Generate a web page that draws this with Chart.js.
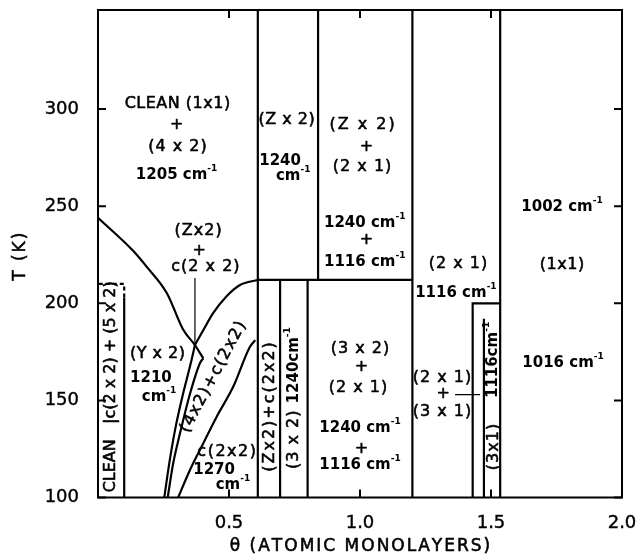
<!DOCTYPE html>
<html>
<head>
<meta charset="utf-8">
<title>Surface phase diagram</title>
<script src="https://cdn.jsdelivr.net/npm/chart.js@4.4.1/dist/chart.umd.min.js"></script>
<style>
  html, body { margin: 0; padding: 0; background: #fff; }
  canvas { display: block; }
</style>
</head>
<body>
<canvas id="phase" width="638" height="559"></canvas>
<script>
// Axis ranges and tick values
const thetaRange = [0, 2];
const tempRange = [100, 351];
const thetaTicks = [0.5, 1.0, 1.5, 2.0];
const tempTicks = [100, 150, 200, 250, 300];

// Phase boundaries as [θ (monolayers), T (K)] points
const cleanBoxEdge = [[0.10, 100], [0.10, 203]];
const cleanBoxTop = [[0.10, 203], [0.10, 210], [0, 210]];
const upperCurve = [[0, 244], [0.134, 227], [0.187, 218.6], [0.263, 205.2], [0.326, 186.2], [0.37, 178.5], [0.402, 171.6]];
const risingCurve = [[0.37, 178.5], [0.402, 186.2], [0.44, 195], [0.49, 203.5], [0.542, 209.4], [0.61, 212]];
const yx2Edge = [[0.253, 100], [0.272, 117.6], [0.294, 134.7], [0.322, 151.9], [0.354, 169.1], [0.37, 178.5]];
const wedgeEdge = [[0.266, 100], [0.287, 117.6], [0.316, 134.7], [0.348, 151.9], [0.389, 169.1], [0.402, 171.6]];
const c2x2Edge = [[0.306, 100], [0.351, 114.2], [0.402, 127.9], [0.453, 141.6], [0.516, 157], [0.58, 177.6], [0.60, 181]];
const straightEdges = [
  [[0.61, 100], [0.61, 351]],
  [[0.84, 212], [0.84, 351]],
  [[0.61, 212], [1.2, 212]],
  [[0.695, 100], [0.695, 212]],
  [[0.80, 100], [0.80, 212]],
  [[1.2, 100], [1.2, 351]],
  [[1.43, 100], [1.43, 200], [1.535, 200]],
  [[1.535, 100], [1.535, 351]],
  [[1.473, 100], [1.473, 192]]
];
const leaderLines = [
  [[0.37, 213], [0.37, 178.5]],
  [[1.363, 153], [1.458, 153]]
];

// Region labels: text, θ, T, rotation (deg), letter spacing (px)
// "**" toggles bold, "^" starts a superscript
const regionLabels = [
  ['CLEAN (1x1)', 0.303, 302.5, 0, 0.5],
  ['+', 0.30, 291.7, 0, 1],
  ['(4 x 2)', 0.303, 280.4, 0, 1],
  ['**1205 cm^-1**', 0.30, 266, 0, 0],
  ['(Zx2)', 0.382, 237.2, 0, 1],
  ['+', 0.386, 227, 0, 1],
  ['c(2 x 2)', 0.41, 219, 0, 1],
  ['(Z x 2)', 0.72, 294.3, 0, 0.5],
  ['**1240**', 0.695, 273.2, 0, 0],
  ['**cm^-1**', 0.745, 265.5, 0, 0],
  ['(Z x 2)', 1.008, 291.7, 0, 2],
  ['+', 1.025, 280.5, 0, 1],
  ['(2 x 1)', 1.008, 270, 0, 1],
  ['**1240 cm^-1**', 1.018, 241.3, 0, 0],
  ['+', 1.025, 232.5, 0, 1],
  ['**1116 cm^-1**', 1.018, 221.2, 0, 0],
  ['(2 x 1)', 1.374, 220.2, 0, 1],
  ['**1116 cm^-1**', 1.366, 205.2, 0, 0],
  ['**1002 cm^-1**', 1.771, 249.5, 0, 0],
  ['(1x1)', 1.771, 219.7, 0, 0.5],
  ['**1016 cm^-1**', 1.775, 169.2, 0, 0],
  ['(3 x 2)', 1.0, 176.4, 0, 1],
  ['+', 1.006, 167.3, 0, 1],
  ['(2 x 1)', 0.992, 156.4, 0, 1],
  ['**1240 cm^-1**', 1.0, 135.8, 0, 0],
  ['+', 1.006, 125.3, 0, 1],
  ['**1116 cm^-1**', 1.0, 116.7, 0, 0],
  ['(2 x 1)', 1.313, 161.5, 0, 1],
  ['+', 1.318, 153.6, 0, 1],
  ['(3 x 1)', 1.313, 144, 0, 1],
  ['(Y x 2)', 0.227, 174.1, 0, 0.5],
  ['**1210**', 0.202, 161.5, 0, 0],
  ['**cm^-1**', 0.233, 151.7, 0, 0],
  ['c(2x2)', 0.491, 123.4, 0, 1.5],
  ['**1270**', 0.443, 114.2, 0, 0],
  ['**cm^-1**', 0.515, 106.4, 0, 0],
  ['(4x2)+c(2x2)', 0.44, 162, -62, 1.5],
  ['CLEAN   |c(2 x 2) + (5 x 2)', 0.05, 157, -90, 0],
  ['(Zx2)+c(2x2)', 0.656, 146.6, -90, 2],
  ['(3 x 2) **1240cm^-1**', 0.748, 151.2, -90, 1],
  ['**1116cm^-1**', 1.509, 170.8, -90, 0],
  ['(3x1)', 1.509, 126, -90, 1]
];

const xTitle = 'θ (ATOMIC MONOLAYERS)';
const yTitle = 'T (K)';

const FAMILY = "'DejaVu Sans', sans-serif";

function parseRuns(str) {
  const runs = [];
  let bold = false, buf = '', i = 0;
  const flush = () => { if (buf) runs.push({ text: buf, bold, sup: false }); buf = ''; };
  while (i < str.length) {
    if (str.startsWith('**', i)) { flush(); bold = !bold; i += 2; continue; }
    if (str[i] === '^') {
      flush(); i++;
      let s = '';
      while (i < str.length && str[i] !== ' ' && !str.startsWith('**', i)) s += str[i++];
      runs.push({ text: s, bold, sup: true });
      continue;
    }
    buf += str[i++];
  }
  flush();
  return runs;
}

function runFont(run, size) {
  const base = run.bold ? size - 1 : size;
  const s = run.sup ? Math.round(base * 0.63) : base;
  return (run.bold ? 'bold ' : '') + s + 'px ' + FAMILY;
}

function drawRich(ctx, str, px, py, rot, ls, size) {
  const runs = parseRuns(str);
  // measure character by character so spacing is explicit
  let total = 0;
  const items = [];
  for (const run of runs) {
    ctx.font = runFont(run, size);
    const sp = run.bold ? 0 : ls;
    for (const ch of run.text) {
      const w = ctx.measureText(ch).width;
      items.push({ ch, font: ctx.font, sup: run.sup, bold: run.bold, w, sp });
      total += w + sp;
    }
  }
  if (items.length) total -= items[items.length - 1].sp;
  ctx.save();
  ctx.translate(px, py);
  ctx.rotate(rot * Math.PI / 180);
  ctx.textBaseline = 'middle';
  ctx.textAlign = 'left';
  ctx.fillStyle = '#000';
  ctx.strokeStyle = '#000';
  ctx.lineWidth = 0.55;
  ctx.lineJoin = 'round';
  let cx = -total / 2;
  for (const it of items) {
    ctx.font = it.font;
    const cy = it.sup ? -size * 0.42 : 0;
    ctx.fillText(it.ch, cx, cy);
    if (!it.bold) ctx.strokeText(it.ch, cx, cy);
    cx += it.w + it.sp;
  }
  ctx.restore();
}

const frameAndLabels = {
  id: 'frameAndLabels',
  afterDatasetsDraw(chart) {
    const { ctx, chartArea: a, scales: { x, y } } = chart;
    ctx.save();
    ctx.strokeStyle = '#000';
    ctx.lineWidth = 2;
    // inward tick marks on all four sides
    const tl = 8;
    ctx.beginPath();
    for (const v of thetaTicks) {
      const px = x.getPixelForValue(v);
      ctx.moveTo(px, a.bottom); ctx.lineTo(px, a.bottom - tl);
      ctx.moveTo(px, a.top); ctx.lineTo(px, a.top + tl);
    }
    for (const v of tempTicks) {
      const py = y.getPixelForValue(v);
      ctx.moveTo(a.left, py); ctx.lineTo(a.left + tl, py);
      ctx.moveTo(a.right, py); ctx.lineTo(a.right - tl, py);
    }
    ctx.stroke();
    ctx.strokeRect(a.left, a.top, a.right - a.left, a.bottom - a.top);

    for (const [text, t, T, rot, ls] of regionLabels) {
      drawRich(ctx, text, x.getPixelForValue(t), y.getPixelForValue(T), rot, ls, 16);
    }

    // axis titles
    drawRich(ctx, xTitle, (a.left + a.right) / 2, 547, 0, 2, 17);
    drawRich(ctx, yTitle, 21, (a.top + a.bottom) / 2 + 3, -90, 2, 17);
    ctx.restore();
  }
};

const boundary = (pts, extra = {}) => ({
  data: pts.map(([t, T]) => ({ x: t, y: T })),
  showLine: true,
  pointRadius: 0,
  borderColor: '#000',
  borderWidth: 2.2,
  fill: false,
  ...extra
});
const smooth = { cubicInterpolationMode: 'monotone' };

const tickFont = { family: FAMILY, size: 18 };
const noScalePadding = s => { s.paddingTop = 0; s.paddingBottom = 0; s.paddingLeft = 0; s.paddingRight = 0; };

new Chart(document.getElementById('phase'), {
  type: 'scatter',
  data: {
    datasets: [
      ...straightEdges.map(p => boundary(p)),
      boundary(cleanBoxEdge),
      boundary(cleanBoxTop, { borderDash: [4, 3] }),
      boundary(upperCurve, smooth),
      boundary(risingCurve, smooth),
      boundary(yx2Edge, smooth),
      boundary(wedgeEdge, smooth),
      boundary(c2x2Edge, smooth),
      ...leaderLines.map(p => boundary(p, { borderWidth: 1.2 }))
    ]
  },
  options: {
    responsive: false,
    animation: false,
    devicePixelRatio: 1,
    layout: { padding: { top: 10, right: 16, left: 0, bottom: 0 } },
    plugins: { legend: { display: false }, tooltip: { enabled: false } },
    scales: {
      x: {
        type: 'linear',
        min: thetaRange[0],
        max: thetaRange[1],
        afterBuildTicks: s => { s.ticks = thetaTicks.map(v => ({ value: v })); },
        afterFit: s => { s.height = 61.5; noScalePadding(s); },
        ticks: { callback: v => v.toFixed(1), padding: 7, font: tickFont, color: '#000', autoSkip: false, maxRotation: 0, textStrokeColor: '#000', textStrokeWidth: 0.4 },
        grid: { display: false },
        border: { display: false }
      },
      y: {
        type: 'linear',
        min: tempRange[0],
        max: tempRange[1],
        afterBuildTicks: s => { s.ticks = tempTicks.map(v => ({ value: v })); },
        afterFit: s => { s.width = 98; noScalePadding(s); },
        ticks: { callback: v => String(v), padding: 11, font: tickFont, color: '#000', textStrokeColor: '#000', textStrokeWidth: 0.4 },
        grid: { display: false },
        border: { display: false }
      }
    }
  },
  plugins: [frameAndLabels]
});
</script>
</body>
</html>
